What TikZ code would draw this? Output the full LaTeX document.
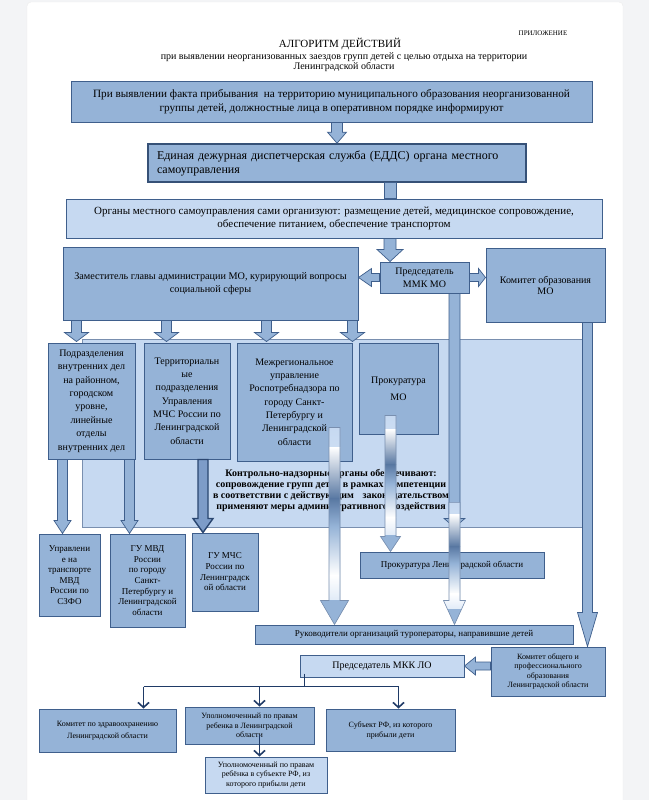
\documentclass[tikz,border=0pt]{standalone}
\usepackage{fontspec}
\setmainfont{Liberation Serif}
\usetikzlibrary{calc, arrows.meta}

\definecolor{boxblue}{HTML}{95B3D7}
\definecolor{paleblue}{HTML}{C6D9F1}
\definecolor{edgeblue}{HTML}{3F5F8C}
\definecolor{darkedge}{HTML}{2A4670}
\definecolor{midblue}{HTML}{7D9CC8}
\definecolor{navy}{HTML}{1F3A66}
\definecolor{pagegray}{HTML}{F3F4F6}
\colorlet{shadelight}{paleblue!55!white}
\colorlet{shadedark}{edgeblue!70!boxblue}

\newcommand{\fsz}[2]{\fontsize{#1}{#2}\selectfont}
\newcommand{\gradband}[4]{%
  \shade[top color=#3, bottom color=#4]
    ($(path picture bounding box.north west)!#1!(path picture bounding box.south west)$) rectangle
    ($(path picture bounding box.north east)!#2!(path picture bounding box.south east)$);}

\tikzset{
  arr shaft/.store in=\arrsw, arr head/.store in=\arrhw, arr len/.store in=\arrhl,
  arr shaft=5pt, arr head=10pt, arr len=10pt,
  flowbox/.style={draw=edgeblue, fill=boxblue, line width=1pt, inner sep=1pt, align=center},
  palebox/.style={flowbox, fill=paleblue},
  blockarrow/.style={draw=edgeblue, fill=boxblue, line width=0.7pt},
  gradarrow/.style={draw=edgeblue!70, line width=0.6pt, path picture={
      \gradband{0}{0.1}{paleblue}{white}
      \gradband{0.1}{0.36}{white}{shadedark}
      \gradband{0.36}{0.5}{shadedark}{boxblue}
      \gradband{0.5}{0.75}{boxblue}{white}
      \gradband{0.75}{0.88}{white}{shadelight}
      \gradband{0.88}{1}{boxblue}{boxblue}}},
  darkarrow/.style={draw=darkedge, fill=midblue, line width=1.4pt},
  treeline/.style={draw=navy, line width=1.6pt},
  treearrow/.style={treeline, -{Straight Barb[length=5pt,width=11pt]}},
}

\newcommand{\downblk}[3][]{%
  \draw[blockarrow,#1] let \p1=#2, \p2=#3 in
    (\x1-\arrsw,\y1) -- (\x1-\arrsw,\y2+\arrhl) -- (\x1-\arrhw,\y2+\arrhl)
    -- (\x1,\y2) -- (\x1+\arrhw,\y2+\arrhl) -- (\x1+\arrsw,\y2+\arrhl)
    -- (\x1+\arrsw,\y1) -- cycle;}
\newcommand{\leftblk}[3][]{%
  \draw[blockarrow,#1] let \p1=#2, \p2=#3 in
    (\x1,\y1-\arrsw) -- (\x2+\arrhl,\y1-\arrsw) -- (\x2+\arrhl,\y1-\arrhw)
    -- (\x2,\y1) -- (\x2+\arrhl,\y1+\arrhw) -- (\x2+\arrhl,\y1+\arrsw)
    -- (\x1,\y1+\arrsw) -- cycle;}
\newcommand{\rightblk}[3][]{%
  \draw[blockarrow,#1] let \p1=#2, \p2=#3 in
    (\x1,\y1-\arrsw) -- (\x2-\arrhl,\y1-\arrsw) -- (\x2-\arrhl,\y1-\arrhw)
    -- (\x2,\y1) -- (\x2-\arrhl,\y1+\arrhw) -- (\x2-\arrhl,\y1+\arrsw)
    -- (\x1,\y1+\arrsw) -- cycle;}

\begin{document}
\begin{tikzpicture}[x=1pt,y=-1pt]
			\useasboundingbox (0,0) rectangle (649,800);
			\fill[pagegray] (0,0) rectangle (649,800);
			\fill[white, draw=gray!15, rounded corners=4pt] (27,2) rectangle (623,806);

			\node[font=\fsz{7}{8}] (annex) at (543,33) {ПРИЛОЖЕНИЕ};
			\node[font=\fsz{11}{13}] (title) at (340,44) {АЛГОРИТМ ДЕЙСТВИЙ};
			\node[font=\fsz{10}{10.5}, align=center] (subtitle) at (344,62) {при выявлении неорганизованных заездов групп детей с целью отдыха на территории\\Ленинградской области};

			\node[flowbox, minimum width=521pt, minimum height=41pt, font=\fsz{11.2}{14}] (intro) at (331.5,101.5) {При выявлении факта прибывания \ на территорию муниципального образования неорганизованной\\группы детей, должностные лица в оперативном порядке информируют};
			\node[flowbox, line width=1.6pt, draw=edgeblue!85!black, minimum width=378pt, minimum height=38pt, text width=360pt, align=left, font=\fsz{12}{14}] (edds) at (337,163) {Единая дежурная диспетчерская служба (ЕДДС) органа местного\\самоуправления};
			\node[palebox, minimum width=536pt, minimum height=39pt, font=\fsz{11}{13}] (organy) at (334,218.5) {Органы местного самоуправления сами организуют: размещение детей, медицинское сопровождение,\\обеспечение питанием, обеспечение транспортом};
			\node[flowbox, minimum width=295pt, minimum height=73pt, font=\fsz{10.2}{13}] (zam) at (210.5,283.5) {Заместитель главы администрации МО, курирующий вопросы\\социальной сферы};
			\node[flowbox, minimum width=89pt, minimum height=31pt, font=\fsz{10}{13}] (mmk) at (424.5,277.5) {Председатель\\ММК МО};
			\node[flowbox, minimum width=119pt, minimum height=74pt, font=\fsz{10}{11}] (kommo) at (545.5,285) {Комитет образования\\МО};

			\node[draw=edgeblue!70, fill=paleblue, line width=0.8pt, minimum width=504pt, minimum height=188pt] (zone) at (334,433) {};

			\node[flowbox, minimum width=87pt, minimum height=116pt, font=\fsz{10}{13.4}] (podr) at (91.5,401) {Подразделения\\внутренних дел\\на районном,\\городском\\уровне,\\линейные\\отделы\\внутренних дел};
			\node[flowbox, minimum width=86pt, minimum height=116pt, font=\fsz{10}{13.3}] (terr) at (187,401) {Территориальн\\ые\\подразделения\\Управления\\МЧС России по\\Ленинградской\\области};
			\node[flowbox, minimum width=115pt, minimum height=118pt, font=\fsz{10}{13.3}] (mezh) at (294.5,402) {Межрегиональное\\управление\\Роспотребнадзора по\\городу Санкт-\\Петербургу и\\Ленинградской\\области};
			\node[flowbox, minimum width=79pt, minimum height=91pt, font=\fsz{10}{17}] (prokmo) at (398.5,388.5) {Прокуратура\\МО};
			\node[font=\bfseries\fsz{10}{11}, align=center] (control) at (331,490) {Контрольно-надзорные органы обеспечивают:\\сопровождение групп детей в рамках компетенции\\в соответствии с действующим\hspace{6pt} законодательством\\применяют меры административного воздействия};

			\node[flowbox, minimum width=61pt, minimum height=82pt, font=\fsz{9}{10.6}] (upr) at (69.5,575) {Управлени\\е на\\транспорте\\МВД\\России по\\СЗФО};
			\node[flowbox, minimum width=75pt, minimum height=93pt, font=\fsz{9}{10.6}] (gumvd) at (147.5,580.5) {ГУ МВД\\России\\по городу\\Санкт-\\Петербургу и\\Ленинградской\\области};
			\node[flowbox, minimum width=66pt, minimum height=78pt, font=\fsz{9}{10.7}] (gumchs) at (225,572) {ГУ МЧС\\России по\\Ленинградск\\ой области};
			\node[flowbox, minimum width=184pt, minimum height=26pt, font=\fsz{9}{11}] (proklo) at (452,565) {Прокуратура Ленинградской области};
			\node[flowbox, minimum width=318pt, minimum height=19pt, font=\fsz{9}{11}] (ruk) at (414,634.5) {Руководители организаций туроператоры, направившие детей};
			\node[flowbox, minimum width=114pt, minimum height=49pt, font=\fsz{8}{9.5}] (komobl) at (548,671.5) {Комитет общего и\\профессионального\\образования\\Ленинградской области};
			\node[palebox, minimum width=164pt, minimum height=22pt, font=\fsz{10}{12}] (predmkk) at (382,666) {Председатель МКК ЛО};
			\node[flowbox, minimum width=137pt, minimum height=43pt, font=\fsz{8}{12}] (zdrav) at (107.5,730.5) {Комитет по здравоохранению\\Ленинградской области};
			\node[flowbox, minimum width=129pt, minimum height=37pt, font=\fsz{8}{9.5}] (uplo) at (249.5,725.5) {Уполномоченный по правам\\ребенка в Ленинградской\\области};
			\node[flowbox, minimum width=129pt, minimum height=42pt, font=\fsz{8}{10}] (subekt) at (390.5,730) {Субъект РФ, из которого\\прибыли дети};
			\node[palebox, minimum width=122pt, minimum height=36pt, font=\fsz{8}{9.5}] (upsub) at (266,775) {Уполномоченный по правам\\ребёнка в субъекте РФ, из\\которого прибыли дети};

			\coordinate (spine) at (390,0);
			\downblk[arr shaft=5.5pt, arr head=9.5pt, arr len=11pt]{(edds.north |- intro.south)}{(edds.north)};
			\draw[blockarrow] ($(spine |- edds.south)+(-6,0)$) rectangle ($(spine |- organy.north)+(6,0)$);
			\downblk[arr shaft=6pt, arr head=13pt, arr len=12pt]{(spine |- organy.south)}{(spine |- mmk.north)};
			\leftblk[arr shaft=4pt, arr head=9pt, arr len=13pt]{(mmk.west)}{(zam.east |- mmk.west)};
			\rightblk[arr shaft=4pt, arr head=9pt, arr len=7pt]{(mmk.east)}{(kommo.west |- mmk.east)};
			\foreach \dx in {14,104,204,290}
				\downblk[arr shaft=5pt, arr head=12pt, arr len=9pt]{($(zam.south west)+(\dx,0)$)}{($(zam.south west |- podr.north)+(\dx,-1)$)};

			\downblk[arr shaft=5pt, arr head=8.5pt, arr len=13pt]{($(podr.south west)+(15,0)$)}{($(podr.south west |- upr.north)+(15,0)$)};
			\downblk[arr shaft=5pt, arr head=8.5pt, arr len=13pt]{($(podr.south west)+(82,0)$)}{($(podr.south west |- gumvd.north)+(82,0)$)};
			\downblk[darkarrow, arr shaft=5pt, arr head=10pt, arr len=14pt]{($(terr.south)+(16,0)$)}{($(terr.south |- gumchs.north)+(16,0)$)};
			\downblk[arr shaft=5.5pt, arr head=10.5pt, arr len=9pt]{($(mmk.south)+(30,0)$)}{($(mmk.south |- zone.south)+(30,0)$)};
			\downblk[gradarrow, arr shaft=5.5pt, arr head=11pt, arr len=24pt]{($(mmk.south |- zone.south)+(30,-25)$)}{($(mmk.south |- ruk.north)+(30,0)$)};
			\downblk[gradarrow, arr shaft=5.5pt, arr head=14pt, arr len=24pt]{($(mezh.south east)+(-18,-34)$)}{($(mezh.south east |- ruk.north)+(-18,0)$)};
			\downblk[gradarrow, arr shaft=5.5pt, arr head=10pt, arr len=15pt]{($(prokmo.south)+(-8,-19)$)}{($(prokmo.south |- proklo.north)+(-8,0)$)};
			\downblk[arr shaft=5pt, arr head=10pt, arr len=34pt]{($(kommo.south)+(42,0)$)}{($(kommo.south |- komobl.north)+(42,0)$)};
			\leftblk[arr shaft=4pt, arr head=9pt, arr len=11pt]{(komobl.west |- predmkk.east)}{(predmkk.east)};

			\coordinate (fork) at ($(predmkk.south west)+(5,9)$);
			\coordinate (zdrtop) at ($(zdrav.north west)+(105,0)$);
			\coordinate (uplotop) at ($(uplo.north west)+(75,0)$);
			\coordinate (subtop) at ($(subekt.north west)+(73,0)$);
			\draw[treeline] ($(predmkk.south west)+(5,-4)$) -- (fork);
			\draw[treeline] (fork -| zdrtop) -- (fork -| subtop);
			\draw[treearrow] (fork -| zdrtop) -- (zdrtop);
			\draw[treearrow] (fork -| uplotop) -- (uplotop);
			\draw[treearrow] (fork -| subtop) -- (subtop);
			\draw[treearrow] ($(uplotop |- uplo.south)+(0,-10)$) -- (uplotop |- upsub.north);
		\end{tikzpicture}
\end{document}
